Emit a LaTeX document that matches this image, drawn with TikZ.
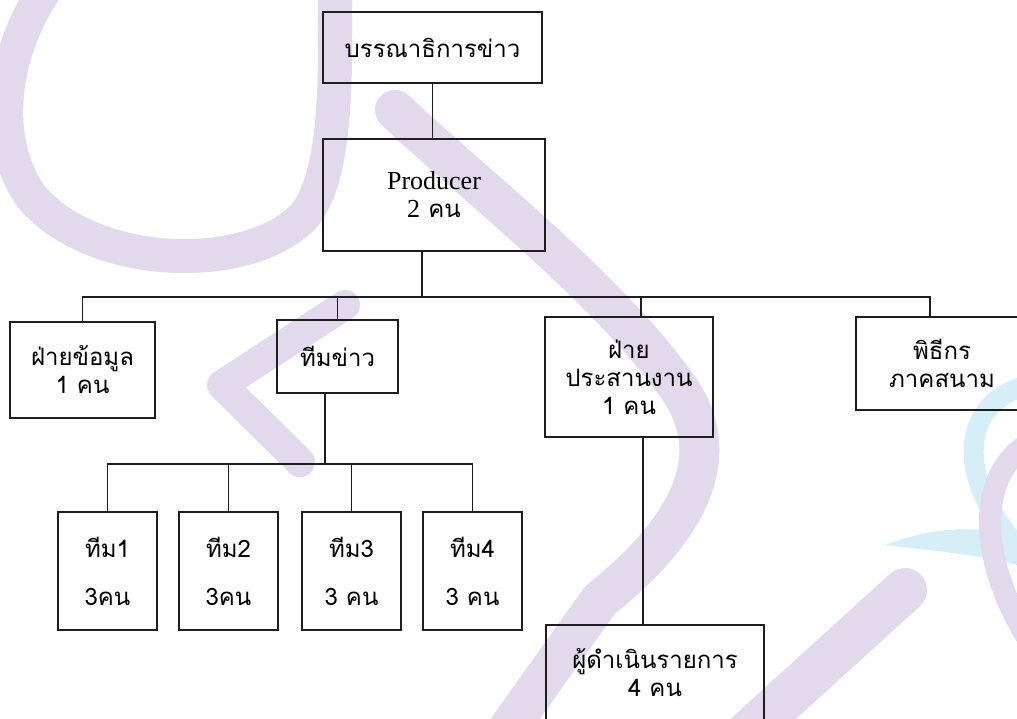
\documentclass[tikz,border=0pt]{standalone}
\usepackage{fontspec}
\setmainfont{Liberation Serif}
\newfontfamily\thai[Script=Thai]{Loma}
\definecolor{ink}{RGB}{30,30,30}
\definecolor{wmcol}{RGB}{226,218,236}
\definecolor{wmblue}{RGB}{214,238,247}
\tikzset{
  box/.style={draw=ink, line width=1.1pt, inner sep=0pt, align=center,
    font=\thai\fontsize{24}{28}\selectfont},
  conn/.style={draw=ink, line width=1.1pt},
  wm/.style={draw=wmcol, line cap=round, line join=round},
  wmb/.style={draw=wmblue, line cap=round, line join=round}
}
\begin{document}
\begin{tikzpicture}[x=1pt,y=-1pt]
\useasboundingbox (0,0) rectangle (1017,718);
\fill[white] (0,0) rectangle (1017,718);
% watermark
\draw[wm, line width=34pt] (75,-45) .. controls (15,10) and (-20,120) .. (30,195)
  .. controls (90,270) and (250,275) .. (305,215) .. controls (340,170) and (335,60) .. (335,-30);
\draw[wm, line width=40pt] (395,110) .. controls (480,190) and (610,290) .. (680,390)
  .. controls (720,450) and (700,520) .. (600,600) -- (500,740);
\draw[wm, line width=30pt] (345,305) -- (222,385) -- (300,462);
\draw[wm, line width=44pt] (740,740) -- (905,590);
\draw[wmb, line width=20pt] (1030,385) .. controls (960,400) and (950,480) .. (1030,560);
\fill[wmblue] (885,545) .. controls (950,520) and (1000,530) .. (1017,540) -- (1017,565) .. controls (980,555) and (930,550) .. cycle;
\draw[wm, line width=22pt] (1035,440) .. controls (975,470) and (975,560) .. (1035,650);
% boxes
\node[box, minimum width=219pt, minimum height=71pt] (top) at (432.5,47.5) {บรรณาธิการข่าว};
\node[box, minimum width=222pt, minimum height=112pt] (prod) at (434,195)
  {{\fontsize{26}{32}\selectfont\rmfamily Producer}\\{\fontsize{26}{32}\selectfont\rmfamily 2} คน};
\node[box, minimum width=145pt, minimum height=96pt] (data) at (82.5,370) {ฝ่ายข้อมูล\\1 คน};
\node[box, minimum width=121pt, minimum height=73pt] (team) at (337.5,356.5) {ทีมข่าว};
\node[box, minimum width=168pt, minimum height=120pt] (coord) at (629,377) {ฝ่าย\\ประสานงาน\\1 คน};
\node[box, minimum width=172pt, minimum height=93pt] (host) at (942,363.5) {พิธีกร\\ภาคสนาม};
\node[box, minimum width=99pt, minimum height=118pt] (t1) at (107.5,571) {ทีม1\\[20pt]3คน};
\node[box, minimum width=99pt, minimum height=118pt] (t2) at (228.5,571) {ทีม2\\[20pt]3คน};
\node[box, minimum width=99pt, minimum height=118pt] (t3) at (351.5,571) {ทีม3\\[20pt]3 คน};
\node[box, minimum width=99pt, minimum height=118pt] (t4) at (472.5,571) {ทีม4\\[20pt]3 คน};
\node[box, minimum width=218pt, minimum height=96pt] (mc) at (655,673) {ผู้ดำเนินรายการ\\4 คน};
% connectors
\coordinate (b0) at (422,297);
\coordinate (s3) at (641,297);
\coordinate (s4) at (930,297);
\coordinate (c0) at (325,464);
\coordinate (d0) at (643,500);
\draw[conn] (top.south) -- (top.south |- prod.north);
\draw[conn] (prod.south -| b0) -- (b0);
\draw[conn] (data.north) |- (s4) -- (host.north -| s4);
\draw[conn] (team.north) -- (team.north |- b0);
\draw[conn] (coord.north -| s3) -- (s3);
\draw[conn] (team.south -| c0) -- (c0);
\draw[conn] (t1.north) |- (c0);
\draw[conn] (c0) -| (t4.north);
\draw[conn] (t2.north) -- (t2.north |- c0);
\draw[conn] (t3.north) -- (t3.north |- c0);
\draw[conn] (coord.south -| d0) -- (mc.north -| d0);
\end{tikzpicture}
\end{document}
